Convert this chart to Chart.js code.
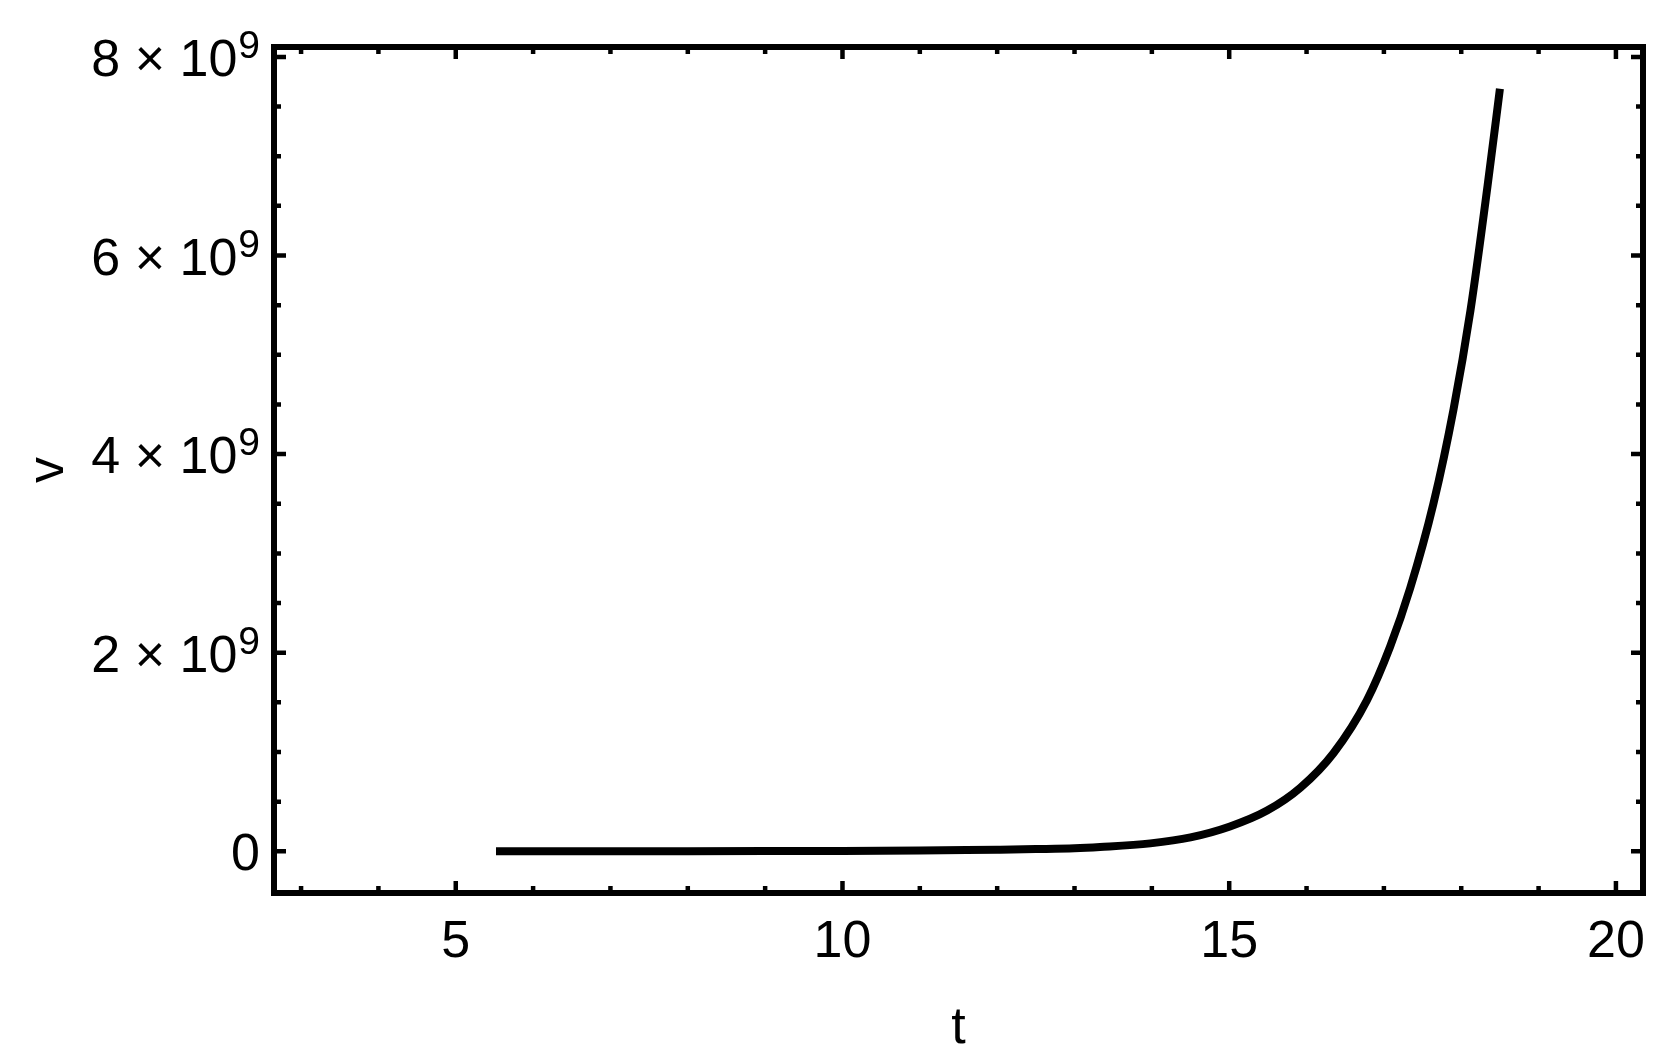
<!DOCTYPE html>
<html>
<head>
<meta charset="utf-8">
<title>v vs t</title>
<script src="https://cdn.jsdelivr.net/npm/chart.js@4/dist/chart.umd.min.js"></script>
<style>
  body { margin: 0; background: #fff; }
  canvas { display: block; }
</style>
</head>
<body>
<canvas id="chartV" width="1679" height="1063"></canvas>
<script>
// values (v in units of 1e9)
const tValues = [5.52, 7, 8, 9, 10, 11, 11.6, 12, 12.5, 13, 13.33, 13.98, 14.5, 15.01, 15.49, 15.92, 16.35, 16.78, 17.08, 17.34, 17.64, 17.9, 18.12, 18.34, 18.5];
const vValues = [0, 0.0003, 0.0008, 0.002, 0.004, 0.008, 0.012, 0.016, 0.022, 0.03, 0.043, 0.08, 0.14, 0.25, 0.41, 0.64, 0.99, 1.52, 2.06, 2.65, 3.5, 4.45, 5.45, 6.7, 7.68];
const xMajorTicks = [5, 10, 15, 20];
const yMajorTicks = [0, 2, 4, 6, 8];
const xTitle = 't';
const yTitle = 'v';

const FONT = '"Liberation Sans", Arial, sans-serif';

let points = tValues.map((t, i) => ({ x: t, y: vValues[i] * 1e9 }));

const framePlugin = {
    id: 'frame',
    afterDatasetsDraw(chart) {
        const ctx = chart.ctx;
        const a = chart.chartArea;
        const xs = chart.scales.x, ys = chart.scales.y;
        ctx.save();
        ctx.strokeStyle = '#000';
        ctx.fillStyle = '#000';

        // frame
        ctx.lineWidth = 6;
        ctx.strokeRect(a.left, a.top, a.right - a.left, a.bottom - a.top);

        // ticks on all four sides, pointing inward
        ctx.lineWidth = 4.5;
        for (let t = 3; t <= 20; t++) {
            let px = xs.getPixelForValue(t);
            let len = (t % 5 === 0) ? 12 : 7;
            ctx.beginPath();
            ctx.moveTo(px, a.bottom); ctx.lineTo(px, a.bottom - len);
            ctx.moveTo(px, a.top); ctx.lineTo(px, a.top + len);
            ctx.stroke();
        }
        for (let k = 0; k <= 16; k++) {
            let v = k * 0.5e9;
            let py = ys.getPixelForValue(v);
            let len = (k % 4 === 0) ? 12 : 7;
            ctx.beginPath();
            ctx.moveTo(a.left, py); ctx.lineTo(a.left + len, py);
            ctx.moveTo(a.right, py); ctx.lineTo(a.right - len, py);
            ctx.stroke();
        }

        // x tick labels
        ctx.font = '52px ' + FONT;
        ctx.textAlign = 'center';
        ctx.textBaseline = 'alphabetic';
        xMajorTicks.forEach(t => {
            ctx.fillText(String(t), xs.getPixelForValue(t), 957);
        });

        // y tick labels, m × 10^9
        ctx.textAlign = 'right';
        const rightEdge = a.left - 14;
        yMajorTicks.forEach(m => {
            let py = ys.getPixelForValue(m * 1e9);
            if (m === 0) {
                ctx.font = '52px ' + FONT;
                ctx.fillText('0', rightEdge, py + 19);
                return;
            }
            ctx.font = '39px ' + FONT;
            ctx.fillText('9', rightEdge, py + 1);
            let w = ctx.measureText('9').width;
            ctx.font = '52px ' + FONT;
            ctx.fillText(m + ' \u00d7 10', rightEdge - w - 1, py + 19);
        });

        // axis titles
        ctx.textAlign = 'center';
        ctx.fillText(xTitle, (a.left + a.right) / 2, 1043);
        ctx.translate(63, (a.top + a.bottom) / 2);
        ctx.rotate(-Math.PI / 2);
        ctx.fillText(yTitle, 0, 0);
        ctx.restore();
    }
};

let vChart = new Chart(document.getElementById('chartV'), {
    type: 'line',
    data: {
        datasets: [{
            label: 'v',
            data: points,
            borderColor: '#000',
            borderWidth: 8,
            pointRadius: 0,
            fill: false,
            cubicInterpolationMode: 'monotone'
        }]
    },
    options: {
        responsive: false,
        animation: false,
        layout: { padding: { left: 274, right: 36, top: 47, bottom: 170 } },
        plugins: { legend: { display: false }, tooltip: { enabled: false } },
        scales: {
            x: { type: 'linear', min: 2.65, max: 20.35, display: false },
            y: { type: 'linear', min: -0.42e9, max: 8.1e9, display: false }
        }
    },
    plugins: [framePlugin]
});
</script>
</body>
</html>
